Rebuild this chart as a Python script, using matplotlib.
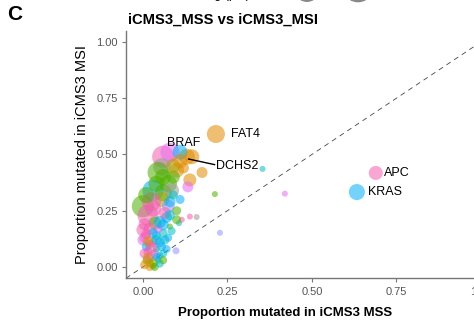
import matplotlib
matplotlib.use("Agg")
import matplotlib.pyplot as plt

plt.rcParams['font.family'] = ['Liberation Sans', 'DejaVu Sans']

# palette (ggplot-like hue colours)
pal = {
    'pink': '#F35FB0', 'blue': '#00B0F6', 'orange': '#E08B00',
    'green': '#4FB000', 'gray': '#999999', 'lav': '#9590FF',
    'mag': '#E76BF3', 'cyan': '#00BFC4', 'olive': '#A3A500',
}

genes = ['APC', 'KRAS', 'FAT4', 'BRAF', 'DCHS2']

# proportion mutated in MSS / MSI, size variable (pct), colour group
mss = [0.689, 0.633, 0.216, 0.060, 0.130,
       0.354, 0.420, 0.213, 0.139, 0.159, 0.228, 0.098, 0.080, 0.107, 0.115,
       0.080, 0.110, 0.145, 0.175, 0.139, 0.100, 0.056, 0.045, 0.075, 0.133,
       0.030, 0.060, 0.085, 0.000, 0.015, 0.056, 0.075, 0.100, 0.070, 0.036,
       0.060, 0.000, 0.006, 0.040, 0.020, 0.000, 0.015, 0.012, 0.020, 0.045,
       0.055, 0.065, 0.100, 0.090, 0.120, 0.025, 0.035, 0.050, 0.005, 0.030,
       0.040, 0.060, 0.080, 0.090, 0.110, 0.020, 0.030, 0.045, 0.010,
       0.005, 0.020, 0.030, 0.010, 0.015, 0.040, 0.050, 0.025, 0.005, 0.015,
       0.030, 0.040, 0.060, 0.070, 0.050, 0.065, 0.080, 0.030, 0.010, 0.040,
       0.060, 0.090, 0.110, 0.020, 0.035, 0.050, 0.060, 0.075, 0.085]
msi = [0.418, 0.333, 0.591, 0.490, 0.490,
       0.436, 0.326, 0.324, 0.224, 0.222, 0.152, 0.072, 0.180, 0.195, 0.210,
       0.510, 0.510, 0.490, 0.420, 0.387, 0.430, 0.445, 0.420, 0.370, 0.356,
       0.340, 0.330, 0.340, 0.270, 0.230, 0.300, 0.270, 0.250, 0.220, 0.195,
       0.187, 0.165, 0.130, 0.140, 0.100, 0.120, 0.067, 0.030, 0.018, 0.030,
       0.090, 0.120, 0.210, 0.400, 0.440, 0.290, 0.060, 0.050, 0.010, 0.005,
       0.080, 0.150, 0.290, 0.320, 0.300, 0.045, 0.110, 0.170, 0.090,
       0.190, 0.170, 0.150, 0.145, 0.115, 0.120, 0.110, 0.085, 0.060, 0.040,
       0.020, 0.045, 0.060, 0.080, 0.200, 0.240, 0.230, 0.260, 0.320, 0.370,
       0.400, 0.450, 0.470, 0.000, 0.000, 0.015, 0.030, 0.130, 0.160]
pct = [4.9, 6.4, 8.1, 12.1, 6.4,
       0.9, 0.9, 0.9, 0.9, 0.9, 0.9, 1.2, 0.9, 0.9, 0.9,
       9.0, 5.5, 5.5, 3.0, 4.2, 5.5, 7.5, 11.0, 7.5, 3.0,
       11.0, 7.5, 5.5, 12.1, 11.0, 5.5, 4.2, 2.0, 3.0, 4.2,
       3.0, 4.2, 3.0, 2.0, 2.0, 3.0, 2.0, 2.0, 2.0, 1.2,
       2.0, 2.0, 2.0, 4.2, 3.0, 9.0, 2.0, 1.2, 2.0, 1.2,
       1.2, 2.0, 3.0, 2.0, 2.0, 2.0, 2.0, 2.0, 2.0,
       3.6, 3.6, 2.5, 2.5, 2.5, 2.5, 2.5, 3.6, 2.5, 2.5,
       2.5, 1.6, 1.6, 1.6, 3.6, 3.6, 2.5, 6.4, 6.4, 6.4,
       6.4, 4.9, 4.9, 1.6, 1.6, 1.6, 1.6, 1.6, 1.6]
group = ['pink', 'blue', 'orange', 'pink', 'orange',
         'cyan', 'mag', 'green', 'pink', 'gray', 'lav', 'lav', 'green', 'cyan', 'pink',
         'mag', 'blue', 'orange', 'orange', 'orange', 'orange', 'gray', 'green', 'green', 'mag',
         'blue', 'green', 'gray', 'green', 'pink', 'olive', 'lav', 'green', 'blue', 'green',
         'blue', 'pink', 'pink', 'blue', 'orange', 'mag', 'pink', 'green', 'olive', 'cyan',
         'blue', 'cyan', 'green', 'green', 'orange', 'pink', 'pink', 'blue', 'orange', 'green',
         'cyan', 'cyan', 'blue', 'cyan', 'blue', 'mag', 'pink', 'mag', 'blue',
         'pink', 'pink', 'blue', 'pink', 'orange', 'cyan', 'blue', 'pink', 'pink', 'orange',
         'olive', 'blue', 'cyan', 'blue', 'blue', 'pink', 'cyan', 'pink', 'green', 'green',
         'green', 'olive', 'orange', 'orange', 'green', 'cyan', 'green', 'blue', 'cyan']

fig = plt.figure(figsize=(4.74, 3.28), dpi=100)
ax = fig.add_axes([0.2658, 0.1517, 0.7844, 0.7546])

ax.scatter(mss, msi, s=[p * 21 for p in pct], c=[pal[g] for g in group],
           alpha=0.55, linewidths=0, zorder=2)
ax.axline((0, 0), slope=1, color='#444444', lw=0.6, dashes=(6, 5), zorder=1)

# gene labels
lab = {'APC': (0.713, 0.418, 'left'), 'KRAS': (0.666, 0.333, 'left'),
       'FAT4': (0.260, 0.591, 'left'), 'BRAF': (0.121, 0.551, 'center'),
       'DCHS2': (0.216, 0.449, 'left')}
for i, g in enumerate(genes):
    tx, ty, ha = lab[g]
    ax.text(tx, ty, g, fontsize=9, ha=ha, va='center', color='black', zorder=4)
ax.plot([mss[4] + 0.005, 0.212], [msi[4] - 0.01, 0.455], color='black', lw=1, zorder=3)

ax.set_xlim(-0.05, 1.05)
ax.set_ylim(-0.05, 1.05)
ax.set_xticks([0, 0.25, 0.5, 0.75, 1.0])
ax.set_xticklabels(['0.00', '0.25', '0.50', '0.75', '1.00'])
ax.set_yticks([0, 0.25, 0.5, 0.75, 1.0])
ax.set_yticklabels(['0.00', '0.25', '0.50', '0.75', '1.00'])
for s in ['top', 'right']:
    ax.spines[s].set_visible(False)
for s in ['left', 'bottom']:
    ax.spines[s].set_color('#777777')
    ax.spines[s].set_linewidth(1.0)
ax.tick_params(colors='#777777', labelcolor='#555555', labelsize=8, length=3, width=0.8, pad=3)
ax.set_ylabel('Proportion mutated in iCMS3 MSI', fontsize=10.5, labelpad=5)

fig.text(285 / 474, 1 - 313 / 328, 'Proportion mutated in iCMS3 MSS', fontsize=9.5,
         fontweight='bold', ha='center', va='center')
fig.text(128 / 474, 1 - 20 / 328, 'iCMS3_MSS vs iCMS3_MSI', fontsize=10.6,
         fontweight='bold', ha='left', va='center')
fig.text(7 / 474, 1 - 15 / 328, 'C', fontsize=15, fontweight='bold', ha='left', va='center')

# cropped legend remnants at the very top
fig.text(250 / 474, 1 + 2 / 328, 'mutating (pct)', fontsize=9, ha='right', va='baseline')
fig.add_artist(plt.Circle((307 / 474, 1 + 5 / 328), 9 / 474, transform=fig.transFigure,
                          color='#888888', clip_on=False))
fig.add_artist(plt.Circle((358 / 474, 1 + 6 / 328), 11 / 474, transform=fig.transFigure,
                          color='#888888', clip_on=False))

fig.savefig('out.png', dpi=100)
